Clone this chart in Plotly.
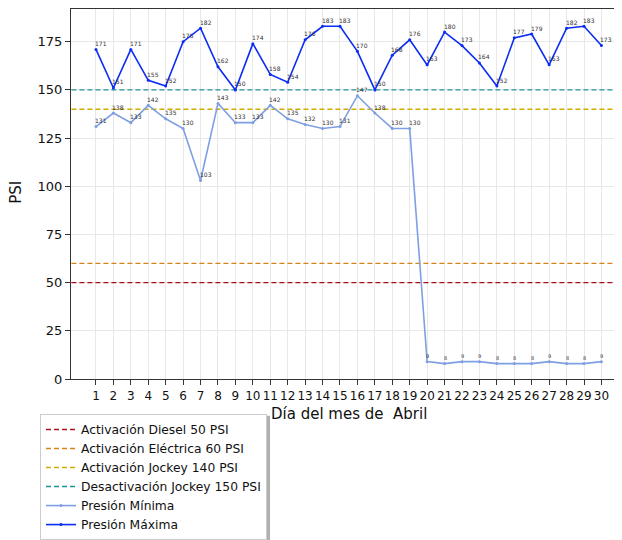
import plotly.graph_objects as go

days = list(range(1, 31))
presion_max = [171, 151, 171, 155, 152, 175, 182, 162, 150, 174, 158, 154, 176, 183, 183,
               170, 150, 168, 176, 163, 180, 173, 164, 152, 177, 179, 163, 182, 183, 173]
presion_min = [131, 138, 133, 142, 135, 130, 103, 143, 133, 133, 142, 135, 132, 130, 131,
               147, 138, 130, 130, 9, 8, 9, 9, 8, 8, 8, 9, 8, 8, 9]
umbrales = [50, 60, 140, 150]
umbral_nombres = ["Activación Diesel 50 PSI", "Activación Eléctrica 60 PSI",
                  "Activación Jockey 140 PSI", "Desactivación Jockey 150 PSI"]
umbral_colores = ["#a8101f", "#d8841c", "#d2ac00", "#1c9598"]

FONT = "DejaVu Sans"
OFF = 8                      # page body margin
FW, FH = 622 - OFF, 540 - OFF
L, T, B = 63, 0, 371.3       # plot area in figure pixels
W, H = FW - L, B - T

def px_x(p):                 # window pixel -> paper x
    return (p - OFF - L) / W

def px_y(p):                 # window pixel -> paper y
    return 1 - (p - OFF - T) / H

fig = go.Figure()

for val, name, col in zip(umbrales, umbral_nombres, umbral_colores):
    fig.add_trace(go.Scatter(x=[-5, 40], y=[val, val], mode="lines", name=name,
                             line=dict(color=col, width=1.4, dash="5px,3px")))

fig.add_trace(go.Scatter(x=days, y=presion_min, mode="lines+markers", name="Presión Mínima",
                         line=dict(color="#7f9fe3", width=1.6),
                         marker=dict(size=3, color="#7f9fe3")))
fig.add_trace(go.Scatter(x=days, y=presion_max, mode="lines+markers", name="Presión Máxima",
                         line=dict(color="#0a2cf5", width=1.6),
                         marker=dict(size=3, color="#0a2cf5")))

annotations = []
for series in (presion_max, presion_min):
    for d, v in zip(days, series):
        small = v < 50
        annotations.append(dict(x=d, y=v, text=str(v), showarrow=False,
                                xanchor="left", yanchor="middle", xshift=-3, yshift=6,
                                font=dict(family=FONT, size=5 if small else 6, color="#333")))

annotations.append(dict(x=px_x(349), y=px_y(414), xref="paper", yref="paper",
                        xanchor="center", yanchor="middle",
                        text="Día del mes de \u00a0Abril", showarrow=False,
                        font=dict(family=FONT, size=15, color="#111")))
annotations.append(dict(x=px_x(16), y=px_y(193), xref="paper", yref="paper", text="PSI",
                        xanchor="center", yanchor="middle",
                        textangle=-90, showarrow=False,
                        font=dict(family=FONT, size=15, color="#111")))

shapes = [
    # top spine
    dict(type="line", xref="paper", yref="paper", x0=0, x1=1, y0=1, y1=1,
         line=dict(color="#333", width=2)),
    # legend shadow
    dict(type="rect", xref="paper", yref="paper", x0=px_x(43), x1=px_x(270),
         y0=px_y(416), y1=px_y(545), fillcolor="#b0b0b0", line=dict(width=0), layer="above"),
]

fig.update_layout(
    width=FW, height=FH,
    margin=dict(l=L, r=0, t=T, b=FH - B, autoexpand=False),
    plot_bgcolor="white", paper_bgcolor="white",
    font=dict(family=FONT, color="#111"),
    showlegend=True,
    legend=dict(x=px_x(40), y=px_y(540.5), xanchor="left", yanchor="bottom",
                bgcolor="white", bordercolor="#cccccc", borderwidth=1,
                font=dict(family=FONT, size=12.3, color="#111"), itemwidth=30,
                tracegroupgap=0),
    annotations=annotations,
    shapes=shapes,
)
fig.update_xaxes(range=[-0.433, 31.18], tickvals=days, ticks="outside", ticklen=5,
                 tickcolor="#333", showline=True, linecolor="#333", linewidth=1.2,
                 showgrid=True, gridcolor="#e8e8e8", gridwidth=1, zeroline=False,
                 automargin=False,
                 tickfont=dict(size=12, family=FONT, color="#111"))
fig.update_yaxes(range=[0, 192.5], tickvals=[0, 25, 50, 75, 100, 125, 150, 175], ticks="outside",
                 ticklen=5, tickcolor="#333", showline=True, linecolor="#333", linewidth=1.2,
                 showgrid=True, gridcolor="#e8e8e8", gridwidth=1, zeroline=False,
                 automargin=False,
                 tickfont=dict(size=13, family=FONT, color="#111"))

fig.write_html("out.html")
